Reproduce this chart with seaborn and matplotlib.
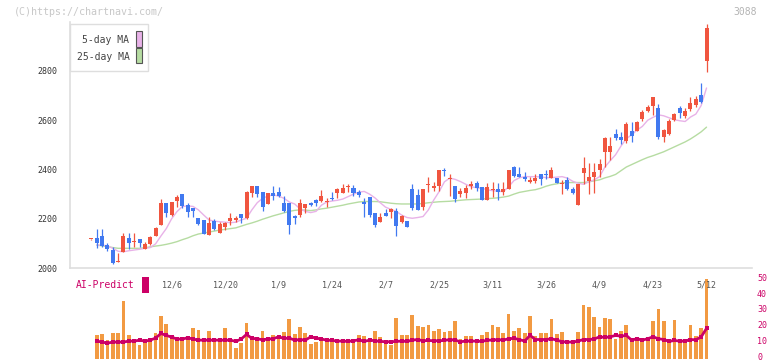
import numpy as np
import pandas as pd
import matplotlib
matplotlib.use('Agg')
import matplotlib.pyplot as plt
import seaborn as sns
from matplotlib.patches import Rectangle

# ---------------- data ----------------
opens = [2116, 2123, 2130, 2093, 2073, 2023, 2066, 2122, 2104, 2117,
         2077, 2098, 2131, 2175, 2265, 2215, 2274, 2301, 2257, 2245,
         2204, 2195, 2134, 2191, 2143, 2168, 2192, 2195, 2218, 2202,
         2306, 2333, 2310, 2260, 2304, 2309, 2263, 2263, 2210, 2215,
         2243, 2263, 2276, 2272, 2268, 2282, 2304, 2306, 2328, 2324,
         2310, 2270, 2287, 2225, 2186, 2225, 2226, 2232, 2186, 2191,
         2321, 2297, 2249, 2338, 2326, 2335, 2400, 2360, 2333, 2300,
         2306, 2335, 2344, 2330, 2276, 2315, 2320, 2310, 2322, 2409,
         2382, 2369, 2350, 2355, 2382, 2381, 2366, 2365, 2342, 2358,
         2320, 2256, 2387, 2355, 2369, 2398, 2473, 2473, 2545, 2534,
         2517, 2557, 2557, 2606, 2639, 2659, 2649, 2534, 2545, 2599,
         2649, 2618, 2645, 2663, 2703, 2839]
highs = [2119, 2159, 2159, 2100, 2087, 2060, 2141, 2141, 2141, 2117,
         2106, 2130, 2165, 2279, 2265, 2270, 2295, 2301, 2265, 2245,
         2204, 2195, 2209, 2198, 2188, 2188, 2222, 2210, 2218, 2314,
         2335, 2335, 2310, 2305, 2333, 2328, 2293, 2263, 2215, 2279,
         2260, 2270, 2279, 2317, 2283, 2310, 2325, 2341, 2341, 2337,
         2315, 2283, 2287, 2225, 2222, 2239, 2245, 2243, 2215, 2191,
         2340, 2321, 2321, 2371, 2348, 2400, 2405, 2381, 2333, 2326,
         2337, 2354, 2354, 2330, 2347, 2351, 2345, 2351, 2400, 2415,
         2412, 2390, 2369, 2380, 2382, 2400, 2409, 2365, 2358, 2371,
         2330, 2341, 2450, 2426, 2428, 2442, 2534, 2534, 2566, 2553,
         2593, 2593, 2595, 2642, 2663, 2695, 2667, 2563, 2604, 2630,
         2659, 2650, 2696, 2699, 2753, 2992]
lows = [2115, 2080, 2085, 2070, 2016, 2023, 2066, 2077, 2087, 2087,
        2077, 2095, 2130, 2175, 2206, 2210, 2249, 2243, 2209, 2209,
        2175, 2138, 2134, 2154, 2141, 2154, 2175, 2185, 2184, 2200,
        2290, 2290, 2233, 2258, 2276, 2290, 2229, 2138, 2179, 2209,
        2222, 2250, 2250, 2270, 2247, 2275, 2283, 2305, 2310, 2293,
        2290, 2209, 2209, 2168, 2185, 2212, 2202, 2131, 2182, 2168,
        2236, 2236, 2236, 2308, 2313, 2313, 2375, 2294, 2270, 2290,
        2286, 2321, 2313, 2276, 2276, 2290, 2276, 2297, 2320, 2369,
        2370, 2355, 2345, 2347, 2337, 2361, 2365, 2345, 2301, 2318,
        2302, 2256, 2341, 2301, 2306, 2371, 2409, 2439, 2520, 2504,
        2509, 2513, 2555, 2595, 2635, 2622, 2523, 2513, 2540, 2595,
        2609, 2610, 2636, 2653, 2672, 2794]
closes = [2118, 2100, 2091, 2078, 2022, 2030, 2130, 2100, 2108, 2103,
          2098, 2125, 2164, 2263, 2225, 2268, 2287, 2253, 2229, 2233,
          2179, 2138, 2182, 2157, 2179, 2184, 2204, 2203, 2202, 2310,
          2333, 2301, 2247, 2304, 2293, 2293, 2233, 2175, 2205, 2263,
          2259, 2255, 2263, 2293, 2272, 2279, 2320, 2324, 2333, 2306,
          2297, 2260, 2215, 2175, 2209, 2213, 2240, 2172, 2213, 2168,
          2245, 2236, 2321, 2342, 2333, 2398, 2395, 2364, 2280, 2313,
          2326, 2338, 2326, 2276, 2328, 2318, 2310, 2320, 2398, 2374,
          2371, 2361, 2358, 2367, 2361, 2378, 2396, 2347, 2345, 2320,
          2306, 2341, 2405, 2369, 2391, 2423, 2526, 2496, 2527, 2520,
          2585, 2537, 2593, 2634, 2652, 2694, 2534, 2561, 2595, 2625,
          2629, 2639, 2670, 2686, 2676, 2974]
nan = np.nan
ma5 = [nan, 2093, 2093, 2090, 2080, 2068, 2066, 2070, 2073, 2076, 2080,
       2083, 2098, 2130, 2160, 2200, 2229, 2250, 2252, 2250, 2236,
       2215, 2195, 2190, 2188, 2186, 2184, 2186, 2195, 2202, 2236,
       2265, 2283, 2292, 2297, 2292, 2283, 2268, 2260, 2240, 2230,
       2225, 2230, 2255, 2268, 2272, 2275, 2280, 2290, 2300, 2308,
       2311, 2300, 2285, 2265, 2247, 2238, 2230, 2215, 2205, 2202,
       2205, 2209, 2236, 2276, 2310, 2350, 2365, 2360, 2351, 2340,
       2330, 2326, 2324, 2318, 2314, 2312, 2310, 2330, 2355, 2366,
       2371, 2371, 2371, 2370, 2367, 2367, 2369, 2371, 2365, 2352,
       2344, 2340, 2350, 2358, 2371, 2410, 2436, 2460, 2495, 2525,
       2541, 2560, 2575, 2600, 2612, 2622, 2618, 2610, 2602, 2598,
       2595, 2613, 2625, 2660, 2731]
ma25 = [nan, 2093, 2090, 2087, 2083, 2080, 2080, 2080, 2080, 2080, 2082,
        2086, 2089, 2092, 2096, 2101, 2107, 2115, 2122, 2131, 2138,
        2142, 2146, 2150, 2154, 2157, 2160, 2163, 2170, 2177, 2183,
        2190, 2198, 2205, 2212, 2218, 2224, 2230, 2234, 2236, 2235,
        2233, 2236, 2240, 2243, 2247, 2251, 2255, 2260, 2264, 2268,
        2270, 2270, 2270, 2269, 2266, 2263, 2261, 2260, 2260, 2260,
        2260, 2262, 2265, 2267, 2269, 2270, 2271, 2273, 2275, 2277,
        2278, 2279, 2280, 2282, 2283, 2285, 2288, 2292, 2300, 2307,
        2311, 2315, 2318, 2324, 2332, 2338, 2342, 2346, 2347, 2347,
        2347, 2347, 2350, 2354, 2358, 2366, 2372, 2380, 2395, 2410,
        2420, 2430, 2440, 2449, 2456, 2464, 2472, 2482, 2492, 2502,
        2512, 2524, 2538, 2553, 2572]
volume = [nan, 14.1, 14.7, 10.9, 15.3, 15.3, 35.5, 14.1, 10.9, 7.8, 10.9,
          10.9, 15.3, 26.1, 21.0, 14.1, 10.9, 10.9, 10.9, 18.5, 17.2,
          10.9, 16.6, 10.9, 10.9, 18.5, 10.9, 5.9, 9.0, 21.6, 13.4,
          10.9, 16.6, 10.9, 14.1, 14.1, 16.0, 24.2, 14.7, 19.1, 15.3,
          8.4, 9.7, 10.9, 10.9, 10.9, 10.9, 10.9, 10.9, 10.9, 14.1,
          13.4, 12.2, 16.6, 12.8, 10.9, 7.8, 24.8,
          14.1, 14.1, 26.7, 19.7, 19.1, 20.4, 16.6, 17.9, 16.0, 16.6,
          22.9, 11.6, 13.4, 13.4, 11.6, 14.1, 16.0, 20.4, 19.1, 15.3,
          27.3, 16.6, 18.5, 15.3, 26.1, 13.4, 15.3, 15.3, 24.2, 14.7,
          16.0, 10.3, 10.3, 16.0, 33.0, 31.7, 25.4, 19.1, 24.8, 24.2,
          11.6, 16.6, 20.4, 11.6, 11.6, 11.6, 12.2, 22.9, 30.5, 22.9,
          11.6, 23.5, 11.6, 10.3, 20.4, 13.4, 18.5, 49.4]
ai_predict = [nan, 10.3, 9.7, 9.0, 9.7, 9.7, 9.7, 10.3, 10.3, 10.9, 10.3,
              10.9, 12.2, 15.1, 13.9, 12.8, 11.6, 11.6, 12.4, 11.6, 10.9,
              10.9, 10.9, 10.9, 10.9, 10.9, 10.9, 10.1, 11.6, 14.5, 12.0,
              11.8, 11.1, 11.6, 11.8, 13.0, 12.0, 12.2, 10.9, 11.3, 10.9,
              13.0, 12.2, 11.6, 10.9, 10.7, 10.3, 10.3, 10.1, 10.5, 11.1,
              10.1, 10.9, 10.5, 10.1, 9.9, 9.9, 10.1,
              10.3, 10.1, 10.9, 11.3, 10.5, 10.7, 10.5, 10.5, 10.7, 11.3,
              10.9, 9.9, 10.3, 10.3, 10.3, 10.1, 10.9, 10.9, 11.3, 10.9,
              11.8, 12.0, 11.3, 10.3, 13.9, 11.3, 11.3, 11.3, 11.8, 10.9,
              9.9, 9.7, 9.7, 10.3, 11.3, 11.3, 11.6, 13.0, 12.6, 13.0,
              13.9, 13.4, 13.9, 10.9, 11.8, 10.9, 11.8, 13.0, 11.8, 11.3,
              10.1, 10.7, 10.3, 10.3, 11.3, 11.1, 13.0, 18.3]
date_tick_labels = ['12/6', '12/20', '1/9', '1/24', '2/7', '2/25',
                    '3/11', '3/26', '4/9', '4/23', '5/12']
market_holidays = ['2024-12-31', '2025-01-01', '2025-01-02', '2025-01-03',
                   '2025-01-13', '2025-02-11', '2025-02-24', '2025-03-20',
                   '2025-04-29', '2025-05-05', '2025-05-06']
first_day, last_day = '2024-11-15', '2025-05-12'
price_ticks = [2000, 2200, 2400, 2600, 2800]
ai_ticks = [0, 10, 20, 30, 40, 50]

# ---------------- style ----------------
sns.set_theme(style='white')
plt.rcParams['font.family'] = ['DejaVu Sans Mono', 'DejaVu Sans']

RED = '#f0553f'
BLUE = '#4179f0'
PINK = '#e8b2e8'
GREEN = '#b6dca2'
ORANGE = '#f29a42'
MAGENTA = '#cc0066'
SPINE = '#dedede'

W, H = 772, 361
fig = plt.figure(figsize=(W / 100, H / 100), dpi=100)
fig.patch.set_facecolor('white')


def fx(px):
    return px / W


def fy(py):
    return 1 - py / H


ax = fig.add_axes([fx(70), fy(268), (752 - 70) / W, (268 - 21.75) / H])
axv = fig.add_axes([fx(70), fy(359), (752 - 70) / W, (359 - 278.2) / H])
ax.set_zorder(3)
ax.patch.set_visible(False)
axv.patch.set_visible(False)

dates = pd.bdate_range(first_day, last_day, freq='C', holidays=market_holidays)
x = np.arange(len(closes))
df = pd.DataFrame({'x': x, 'ma5': ma5, 'ma25': ma25,
                   'vol': volume, 'ai': ai_predict})

o = np.array(opens, float)
c = np.array(closes, float)
h = np.array(highs, float)
l = np.array(lows, float)
cols = np.where(c >= o, RED, BLUE)

# moving averages
sns.lineplot(data=df, x='x', y='ma25', ax=ax, color=GREEN, lw=1.0,
             estimator=None, errorbar=None, zorder=2)
sns.lineplot(data=df, x='x', y='ma5', ax=ax, color=PINK, lw=1.0,
             estimator=None, errorbar=None, zorder=2)

# candles
ax.vlines(x, l, h, colors=cols, linewidth=0.9, zorder=3)
ax.bar(x, np.maximum(np.abs(c - o), 5), bottom=np.minimum(o, c), width=0.75,
       color=cols, linewidth=0, zorder=4)

xlim = (-4, 123.5)
ax.set_xlim(*xlim)
ax.set_ylim(2000, 3000)
for s in ['top', 'right']:
    ax.spines[s].set_visible(False)
for s in ['left', 'bottom']:
    ax.spines[s].set_color(SPINE)
    ax.spines[s].set_linewidth(1.2)
ax.set_xlabel('')
ax.set_ylabel('')
ax.grid(False)

ax.set_yticks(price_ticks)
ax.set_yticklabels([str(t) for t in price_ticks])
ax.tick_params(axis='y', direction='out', length=5, width=1, color=SPINE,
               labelsize=6, labelcolor='#333333', pad=4)

label_pos = [i for i, d in enumerate(dates) if f'{d.month}/{d.day}' in date_tick_labels]
label_txt = [f'{dates[i].month}/{dates[i].day}' for i in label_pos]
ax.set_xticks(label_pos)
ax.set_xticklabels(label_txt)
ax.set_xticks(np.linspace(xlim[0], xlim[1], 12), minor=True)
ax.tick_params(axis='x', which='major', length=0, labelsize=6,
               labelcolor='#555555', pad=9.2)
ax.tick_params(axis='x', which='minor', direction='inout', length=7,
               width=1, color=SPINE)

# volume / AI-Predict panel (baseline at the panel's bottom edge)
base = -1.0
vmask = ~np.isnan(df['vol'].values)
axv.bar(x[vmask], df['vol'].values[vmask] - base, bottom=base, width=0.7,
        color=ORANGE, linewidth=0, zorder=1)
sns.lineplot(data=df, x='x', y='ai', ax=axv, color=MAGENTA, lw=2.0,
             marker='s', markersize=2.7, markeredgewidth=0,
             estimator=None, errorbar=None, zorder=2)
axv.set_xlim(*xlim)
axv.set_ylim(base, 50)
axv.set_xlabel('')
axv.set_ylabel('')
axv.set_xticks([])
for s in axv.spines.values():
    s.set_visible(False)
axv.yaxis.tick_right()
axv.set_yticks(ai_ticks)
axv.set_yticklabels([str(t) for t in ai_ticks])
axv.tick_params(axis='y', length=0, labelsize=6, labelcolor=MAGENTA, pad=3.6)
for lab in axv.get_yticklabels():
    lab.set_verticalalignment('center')
axv.grid(False)

# legend box (moving averages)
fig.add_artist(Rectangle((fx(70), fy(71)), (148 - 70) / W, (71 - 24) / H,
                         transform=fig.transFigure, facecolor='white',
                         edgecolor=SPINE, linewidth=1.0, zorder=10))
fig.text(fx(129.5), fy(40), '5-day MA', ha='right', va='center', fontsize=7,
         color='#444444', zorder=11)
fig.text(fx(129.5), fy(56.5), '25-day MA', ha='right', va='center', fontsize=7,
         color='#444444', zorder=11)
fig.add_artist(Rectangle((fx(136.2), fy(46.5)), 6.3 / W, 15.3 / H,
                         transform=fig.transFigure, facecolor=PINK,
                         edgecolor='#555555', linewidth=0.8, zorder=11))
fig.add_artist(Rectangle((fx(136.2), fy(63.3)), 6.3 / W, 15.0 / H,
                         transform=fig.transFigure, facecolor=GREEN,
                         edgecolor='#555555', linewidth=0.8, zorder=11))

# AI-Predict label
fig.text(fx(76), fy(284.5), 'AI-Predict', ha='left', va='center', fontsize=7,
         color=MAGENTA, zorder=11)
fig.add_artist(Rectangle((fx(142), fy(292.7)), 7 / W, 15.4 / H,
                         transform=fig.transFigure, facecolor=MAGENTA,
                         edgecolor='none', zorder=11))

# watermark and code
fig.text(fx(14), fy(12), '(C)https://chartnavi.com/', ha='left', va='center',
         fontsize=7.2, color='#c8c8c8')
fig.text(fx(757), fy(12), '3088', ha='right', va='center', fontsize=7,
         color='#b4b4b4')

fig.savefig('out.png', dpi=100, facecolor='white')
